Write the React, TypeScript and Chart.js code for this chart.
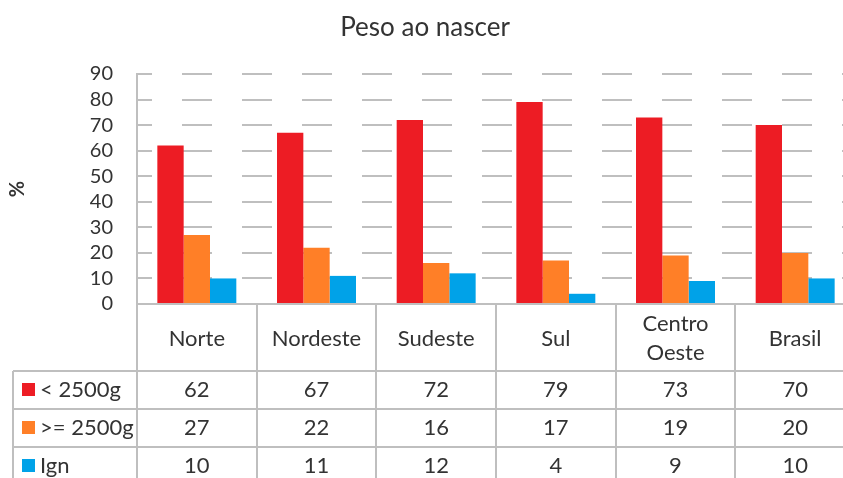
import React, { useEffect, useRef } from "react";
import { Chart, registerables } from "chart.js";

Chart.register(...registerables);

const TITLE = "Peso ao nascer";
const Y_LABEL = "%";
const CATEGORIES: (string | string[])[] = ["Norte", "Nordeste", "Sudeste", "Sul", ["Centro", "Oeste"], "Brasil"];
const SERIES_NAMES = ["< 2500g", ">= 2500g", "Ign"];
const LOW_WEIGHT = [62, 67, 72, 79, 73, 70];
const NORMAL_WEIGHT = [27, 22, 16, 17, 19, 20];
const IGNORED = [10, 11, 12, 4, 9, 10];
const COLORS = ["#ED1C24", "#FF7F27", "#00A2E8"];
const Y_MAX = 90;
const Y_STEP = 10;

const FONT = "Lato, 'Open Sans', sans-serif";
const TEXT = "#333333";
const LINE = "#BFBFBF";

const tablePlugin = {
  id: "dataTable",
  afterDraw(chart: any) {
    const { ctx, chartArea, scales } = chart;
    const x = scales.x;
    const W = chart.width;
    const H = chart.height;
    const n = CATEGORIES.length;
    const colW = (chartArea.right - chartArea.left) / n;
    const headerBottom = chartArea.bottom + 67;
    const rowH = 38;
    const tableLeft = 13;
    ctx.save();
    // title
    ctx.fillStyle = TEXT;
    ctx.font = `26px ${FONT}`;
    ctx.textAlign = "center";
    ctx.textBaseline = "middle";
    ctx.fillText(TITLE, 425, 28);

    ctx.strokeStyle = LINE;
    ctx.lineWidth = 2;
    // vertical lines
    for (let i = 0; i <= n; i++) {
      const xp = Math.round(chartArea.left + i * colW);
      ctx.beginPath();
      ctx.moveTo(xp, chartArea.bottom);
      ctx.lineTo(xp, H);
      ctx.stroke();
    }
    ctx.beginPath();
    ctx.moveTo(tableLeft, headerBottom);
    ctx.lineTo(tableLeft, H);
    ctx.stroke();
    // horizontal lines
    for (let r = 0; r < SERIES_NAMES.length; r++) {
      const yp = headerBottom + r * rowH;
      ctx.beginPath();
      ctx.moveTo(tableLeft, yp);
      ctx.lineTo(W, yp);
      ctx.stroke();
    }
    // category headers
    ctx.fillStyle = TEXT;
    ctx.font = `22px ${FONT}`;
    const headerMid = (chartArea.bottom + headerBottom) / 2 + 1;
    CATEGORIES.forEach((c, i) => {
      const cx = x.getPixelForValue(i);
      if (Array.isArray(c)) {
        c.forEach((line, k) => {
          ctx.fillText(line, cx, headerMid + (k - (c.length - 1) / 2) * 29);
        });
      } else {
        ctx.fillText(c, cx, headerMid);
      }
    });
    // rows
    chart.data.datasets.forEach((ds: any, r: number) => {
      const cy = headerBottom + r * rowH + rowH / 2;
      ctx.fillStyle = ds.backgroundColor;
      ctx.fillRect(22, cy - 7, 13, 13);
      ctx.fillStyle = TEXT;
      ctx.textAlign = "left";
      ctx.fillText(ds.label, 40, cy);
      ctx.textAlign = "center";
      ds.data.forEach((v: number, i: number) => {
        ctx.fillText(String(v), x.getPixelForValue(i), cy);
      });
    });
    ctx.restore();
  },
};

export default function App() {
  const ref = useRef<HTMLCanvasElement>(null);
  useEffect(() => {
    if (!ref.current) return;
    const chart = new Chart(ref.current, {
      type: "bar",
      data: {
        labels: CATEGORIES,
        datasets: [
          { label: SERIES_NAMES[0], data: LOW_WEIGHT, backgroundColor: COLORS[0] },
          { label: SERIES_NAMES[1], data: NORMAL_WEIGHT, backgroundColor: COLORS[1] },
          { label: SERIES_NAMES[2], data: IGNORED, backgroundColor: COLORS[2] },
        ],
      },
      options: {
        responsive: false,
        animation: false,
        maintainAspectRatio: false,
        layout: { padding: { top: 74, bottom: 174, left: 0, right: 5 } },
        datasets: { bar: { categoryPercentage: 0.66, barPercentage: 1 } },
        plugins: { legend: { display: false }, title: { display: false }, tooltip: { enabled: false } },
        scales: {
          x: {
            ticks: { display: false },
            grid: { display: false, drawTicks: false },
            border: { display: true, color: LINE, width: 2 },
          },
          y: {
            min: 0,
            max: Y_MAX,
            ticks: {
              stepSize: Y_STEP,
              autoSkip: false,
              color: TEXT,
              font: { family: FONT, size: 20 },
              padding: 24,
            },
            grid: { color: LINE, lineWidth: 2, drawTicks: false },
            border: { display: true, color: LINE, width: 2, dash: [30, 30], dashOffset: 16 },
            title: {
              display: true,
              text: Y_LABEL,
              color: TEXT,
              font: { family: FONT, size: 20, weight: "bold" },
              padding: { top: 6, bottom: 0 },
            },
            afterFit: (s: any) => {
              s.width = 137;
            },
          },
        },
      },
      plugins: [tablePlugin],
    });
    return () => chart.destroy();
  }, []);
  return (
    <div style={{ position: "absolute", left: 0, top: 0, width: 843, height: 478, overflow: "hidden", background: "#fff" }}>
      <canvas ref={ref} width={860} height={478} style={{ display: "block" }} />
    </div>
  );
}
